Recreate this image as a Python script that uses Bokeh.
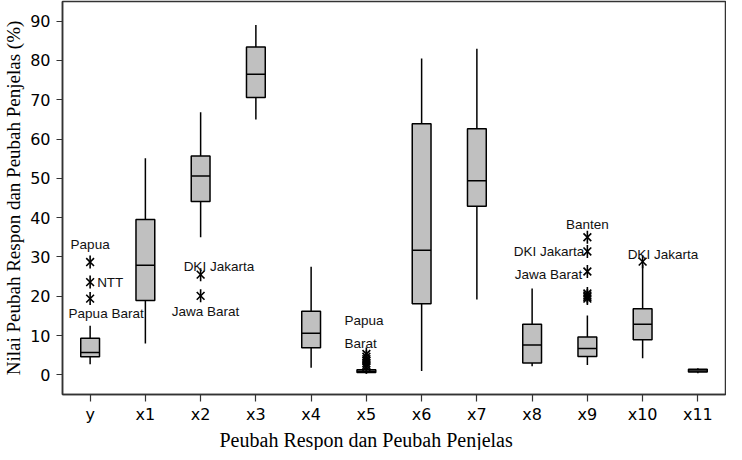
import numpy as np
from bokeh.plotting import figure
from bokeh.models import ColumnDataSource, FixedTicker, Range1d, Title
from bokeh.transform import dodge
from bokeh.core.properties import value
from bokeh.embed import file_html
from bokeh.resources import INLINE

# ---------------- data ----------------
cats = ["y", "x1", "x2", "x3", "x4", "x5", "x6", "x7", "x8", "x9", "x10", "x11"]
whisker_lo = [2.7, 8.0, 35.0, 65.0, 1.8, 0.3, 1.0, 19.2, 2.2, 2.5, 4.2, 0.4]
q1 = [4.6, 18.9, 44.1, 70.6, 6.9, 0.6, 18.1, 42.9, 3.0, 4.7, 8.9, 0.7]
median = [5.7, 27.9, 50.6, 76.5, 10.6, 0.9, 31.7, 49.4, 7.6, 6.7, 12.9, 1.0]
q3 = [9.3, 39.5, 55.7, 83.4, 16.2, 1.3, 63.9, 62.6, 12.9, 9.6, 16.8, 1.4]
whisker_hi = [12.5, 55.1, 66.8, 89.0, 27.5, 1.7, 80.5, 83.0, 22.0, 15.1, 28.0, 1.7]

outlier_cat = ["y", "y", "y", "x2", "x2",
               "x5", "x5", "x5", "x5", "x5", "x5", "x5",
               "x9", "x9", "x9", "x9", "x9", "x9", "x9", "x10"]
outlier_val = [28.7, 23.6, 19.4, 25.5, 20.1,
               2.0, 2.5, 3.0, 3.5, 4.0, 4.6, 5.3,
               35.0, 31.4, 26.3, 20.7, 20.2, 19.8, 19.4, 28.8]

label_cat = ["y", "y", "y", "x2", "x2", "x5", "x9", "x9", "x9", "x10"]
label_val = [28.7, 23.6, 19.4, 25.5, 20.1, 5.3, 35.0, 31.4, 26.3, 28.8]
label_text = ["Papua", "NTT", "Papua Barat", "DKI Jakarta", "Jawa Barat",
              "Papua\nBarat", "Banten", "DKI Jakarta", "Jawa Barat", "DKI Jakarta"]

y_ticks = [0, 10, 20, 30, 40, 50, 60, 70, 80, 90]

x_title = "Peubah Respon dan Peubah Penjelas"
y_title = "Nilai Peubah Respon dan Peubah Penjelas (%)"

# ---------------- styling of labels (screen offsets) ----------------
label_align = ["center", "left", "center", "left", "left",
               "left", "center", "right", "right", "left"]
label_dx = [0, 7, 16, -17, -29, -22, 0, -3, -5, -15]
label_dy = [-18, 0, 15, -8, 16, -22, -13, 0, 3, -7]

FRAME = "#333333"

p = figure(x_range=cats, y_range=Range1d(-5, 95), width=726, height=450,
           output_backend="svg", toolbar_location=None,
           min_border_left=57, min_border_right=1, min_border_top=1,
           min_border_bottom=0)
p.background_fill_color = "white"
p.border_fill_color = "white"
p.outline_line_color = FRAME
p.outline_line_width = 1.5
p.grid.visible = False

box_src = ColumnDataSource(dict(cat=cats, lo=whisker_lo, q1=q1, med=median, q3=q3, hi=whisker_hi))

# whiskers
p.segment(x0="cat", y0="lo", x1="cat", y1="q1", source=box_src, line_color="black", line_width=1.5)
p.segment(x0="cat", y0="q3", x1="cat", y1="hi", source=box_src, line_color="black", line_width=1.5)
# boxes
BW = 0.34
p.vbar(x="cat", top="q3", bottom="q1", width=BW, source=box_src,
       fill_color="#c0c0c0", line_color="black", line_width=1.5)
# medians
p.segment(x0=dodge("cat", -BW / 2, range=p.x_range), y0="med",
          x1=dodge("cat", BW / 2, range=p.x_range), y1="med",
          source=box_src, line_color="black", line_width=1.5)

# outliers (six-armed asterisk)
out_src = ColumnDataSource(dict(cat=outlier_cat, val=outlier_val))
p.scatter(x="cat", y="val", source=out_src, marker="x", size=11,
          line_color="black", line_width=1.6)
p.scatter(x="cat", y="val", source=out_src, marker="dash", angle=np.pi / 2, size=13,
          line_color="black", line_width=1.6)

# labels
lab_src = ColumnDataSource(dict(cat=label_cat, val=label_val, txt=label_text,
                                align=label_align, dx=label_dx, dy=label_dy))
p.text(x="cat", y="val", text="txt", source=lab_src, text_align="align",
       text_baseline="middle", x_offset="dx", y_offset="dy",
       text_font=value("Liberation Sans"), text_font_size="13.5px",
       text_color="#111111", text_line_height=1.55)

# axes
p.yaxis.ticker = FixedTicker(ticks=y_ticks)
p.yaxis.minor_tick_line_color = None
p.yaxis.major_tick_in = 0
p.yaxis.major_tick_out = 6
p.yaxis.major_label_standoff = 6
p.yaxis.axis_label = y_title
p.yaxis.axis_label_standoff = 3
p.yaxis.axis_label_text_font_size = "19px"
p.xaxis.major_tick_in = 0
p.xaxis.major_tick_out = 7
p.xaxis.major_label_standoff = 3
for ax in (p.xaxis, p.yaxis):
    ax.axis_line_color = FRAME
    ax.axis_line_width = 1.5
    ax.major_tick_line_color = FRAME
    ax.major_tick_line_width = 1.2
    ax.major_label_text_font = "DejaVu Sans"
    ax.major_label_text_font_size = "16px"
    ax.major_label_text_color = "black"
    ax.axis_label_text_font = "Liberation Serif"
    ax.axis_label_text_font_style = "normal"
    ax.axis_label_text_color = "black"

# x-axis title as a title panel below the axis (left aligned + offset)
xt = Title(text=x_title, align="left", offset=157, standoff=0,
           text_font="Liberation Serif", text_font_size="20px",
           text_font_style="normal", text_color="black")
p.add_layout(xt, "below")

open("out.html", "w").write(file_html(p, INLINE))
